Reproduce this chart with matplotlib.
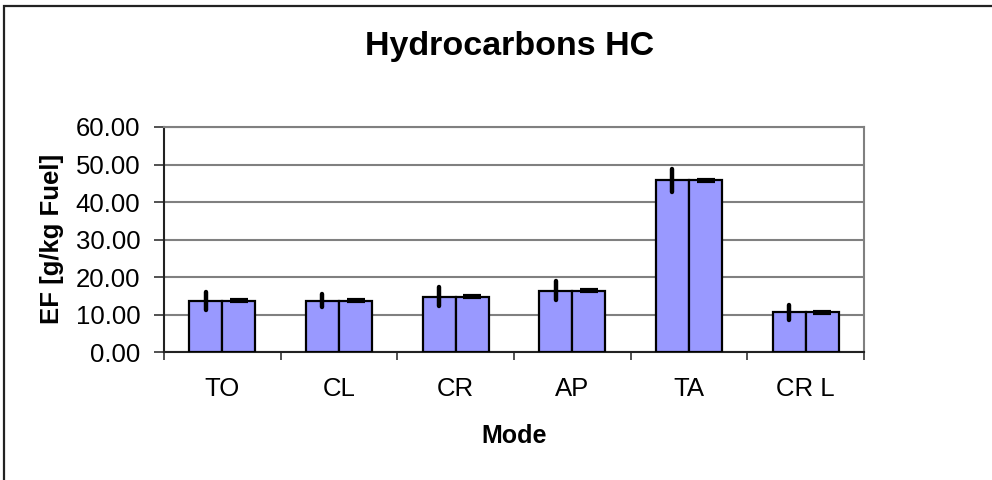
import matplotlib
matplotlib.use('Agg')
import matplotlib.pyplot as plt
from matplotlib.patches import Rectangle
import numpy as np

plt.rcParams['font.family'] = ['Liberation Sans', 'DejaVu Sans']

# values
modes = ['TO', 'CL', 'CR', 'AP', 'TA', 'CR L']
ef_a = [13.7, 13.7, 14.8, 16.4, 45.8, 10.6]
err_a = [2.4, 1.7, 2.5, 2.5, 3.0, 1.9]
ef_b = [13.7, 13.7, 14.8, 16.4, 45.8, 10.6]
err_b = [0.15, 0.15, 0.15, 0.15, 0.15, 0.15]
yticks = [0, 10, 20, 30, 40, 50, 60]

fig = plt.figure(figsize=(9.92, 4.8), dpi=100)
ax = fig.add_axes([164/992, 1 - 352.3/480, 700/992, 225.3/480])

x = np.arange(len(modes)) + 0.5
w = 0.283
bar_col = '#9999FF'
ax.bar(x - w/2, ef_a, w, color=bar_col, edgecolor='black', linewidth=1.6, zorder=3)
ax.bar(x + w/2, ef_b, w, color=bar_col, edgecolor='black', linewidth=1.6, zorder=3)

e1 = ax.errorbar(x - w/2, ef_a, yerr=err_a, fmt='none', ecolor='black',
                 elinewidth=3.2, capsize=0, zorder=4)
e2 = ax.errorbar(x + w/2, ef_b, yerr=err_b, fmt='none', ecolor='black',
                 elinewidth=3, capsize=6.2, capthick=3, zorder=4)
for lc in e1[2]:
    lc.set_capstyle('round')

ax.set_xlim(0, len(modes))
ax.set_ylim(0, 60)
ax.set_yticks(yticks)
ax.set_yticklabels([f'{v:.2f}' for v in yticks])
ax.yaxis.grid(True, color='#808080', linewidth=1.5, zorder=0)
ax.set_axisbelow(True)

ax.set_xticks(np.arange(len(modes) + 1))
ax.set_xticklabels([])
ax.set_xticks(x, minor=True)
ax.set_xticklabels(modes, minor=True)
ax.tick_params(axis='x', which='major', length=6, width=1.2, color='#333333', direction='out')
ax.tick_params(axis='x', which='minor', length=0, pad=18, labelsize=18.5)
ax.tick_params(axis='y', length=7, width=1.2, color='#333333', pad=10, labelsize=18.5)

for s in ['left', 'bottom']:
    ax.spines[s].set_color('#222222')
    ax.spines[s].set_linewidth(1.5)
for s in ['top', 'right']:
    ax.spines[s].set_color('#808080')
    ax.spines[s].set_linewidth(1.5)

fig.text(510/992, 1 - 46/480, 'Hydrocarbons HC', ha='center', va='center',
         fontsize=24.5, fontweight='bold')
fig.text(52/992, 1 - 239/480, 'EF [g/kg Fuel]', ha='center', va='center',
         rotation=90, fontsize=18.5, fontweight='bold')
fig.text(514/992, 1 - 436/480, 'Mode', ha='center', va='center',
         fontsize=18, fontweight='bold')

# outer chart frame (runs off the right and bottom)
fig.patches.append(Rectangle((4/992, -0.1), 1.2, 1 - 6/480 + 0.1, transform=fig.transFigure,
                             fill=False, edgecolor='#222222', linewidth=1.6))

fig.savefig('out.png', dpi=100)
